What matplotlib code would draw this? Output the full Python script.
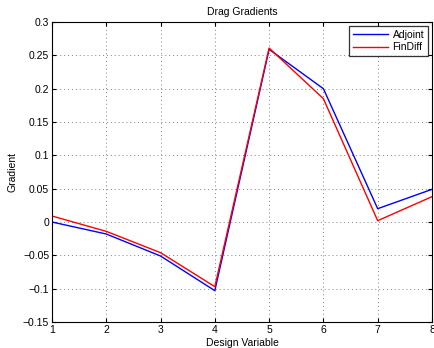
import matplotlib
matplotlib.use("Agg")
import matplotlib.pyplot as plt

plt.rcParams["font.family"] = ["Liberation Sans", "DejaVu Sans"]

design_vars = [1, 2, 3, 4, 5, 6, 7, 8]
adjoint = [0.000, -0.018, -0.051, -0.103, 0.259, 0.200, 0.020, 0.049]
findiff = [0.009, -0.014, -0.046, -0.097, 0.261, 0.185, 0.002, 0.038]

fig = plt.figure(figsize=(4.35, 3.48), dpi=100)
ax = fig.add_axes([0.1195, 0.0747, 0.8735, 0.862])

ax.plot(design_vars, adjoint, color="blue", lw=1.0, label="Adjoint")
ax.plot(design_vars, findiff, color="red", lw=1.0, label="FinDiff")

ax.set_xlim(1, 8)
ax.set_ylim(-0.15, 0.3)
ax.set_xticks(range(1, 9))
ax.set_yticks([-0.15, -0.1, -0.05, 0, 0.05, 0.1, 0.15, 0.2, 0.25, 0.3])
ax.set_yticklabels(["\u22120.15", "\u22120.1", "\u22120.05", "0", "0.05", "0.1",
                    "0.15", "0.2", "0.25", "0.3"])
ax.grid(True, linestyle=(0, (1, 3)), color="gray", lw=0.7)
ax.tick_params(direction="in", top=True, right=True, labelsize=7.5, length=3, pad=2)
for s in ax.spines.values():
    s.set_linewidth(0.8)

ax.set_title("Drag Gradients", fontsize=7.5, pad=5)
ax.set_xlabel("Design Variable", fontsize=7.5, labelpad=2)
ax.set_ylabel("Gradient", fontsize=7.5, labelpad=4)

leg = ax.legend(loc="upper right", fontsize=7.5, fancybox=False, edgecolor="black",
                handlelength=3.4, borderaxespad=0.4, borderpad=0.35,
                labelspacing=0.25, handletextpad=0.4)
leg.get_frame().set_linewidth(0.9)

fig.savefig("out.png", dpi=100)
